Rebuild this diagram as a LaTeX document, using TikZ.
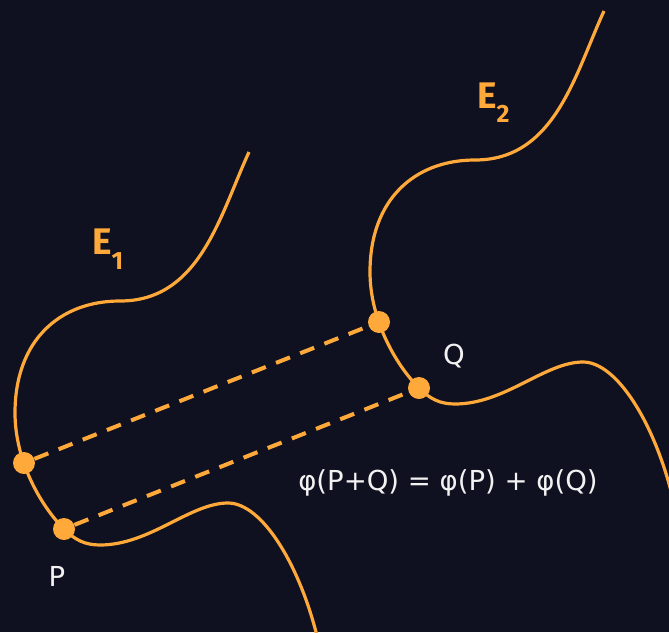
\documentclass[tikz,border=0pt]{standalone}
\usepackage{fontspec}
\setmainfont{Fira Sans}
\newfontfamily\labelfont{DejaVu Sans}
\definecolor{bgdark}{HTML}{0F1020}
\definecolor{curveorange}{HTML}{FFA93A}
\definecolor{textwhite}{HTML}{F2F2F2}
\begin{document}
\begin{tikzpicture}
[
    x=1pt, y=-1pt,
    curve/.style={draw=curveorange, line width=3.2pt},
    point/.style={circle, fill=curveorange, inner sep=0pt, minimum size=22pt},
    chord/.style={draw=curveorange, line width=4pt, dash pattern=on 15pt off 11pt},
    ptlabel/.style={text=textwhite, inner sep=0pt, font=\labelfont\fontsize{27.5}{32}\selectfont},
    curvename/.style={text=curveorange, inner sep=0pt, anchor=base west, font=\bfseries\fontsize{37}{40}\selectfont}
]
    \fill[bgdark] (0,0) rectangle (669,632);
    \clip (0,0) rectangle (669,632);

    \begin{scope}
        \draw[curve] (249,152) .. controls (220,215) and (200,301) .. (120,301)
            .. controls (60,301) and (15,340) .. (15,413)
            .. controls (15,460) and (40,505) .. (64,529)
            .. controls (75,540) and (85,545) .. (100,545)
            .. controls (150,545) and (190,503) .. (228,503)
            .. controls (262,503) and (300,565) .. (318,640);
        \node [point] (p1) at (24,463) {};
        \node [point] (p) at (64,529) {};
    \end{scope}

    \begin{scope}[shift={(355,-141)}]
        \draw[curve] (249,152) .. controls (220,215) and (200,301) .. (120,301)
            .. controls (60,301) and (15,340) .. (15,413)
            .. controls (15,460) and (40,505) .. (64,529)
            .. controls (75,540) and (85,545) .. (100,545)
            .. controls (150,545) and (190,503) .. (228,503)
            .. controls (262,503) and (300,565) .. (318,640);
        \node [point] (q1) at (24,463) {};
        \node [point] (q) at (64,529) {};
    \end{scope}

    \draw[chord] (p1) -- (q1);
    \draw[chord] (p) -- (q);

    \node [curvename] (e1) at (92,254) {E\raisebox{-15pt}{\fontsize{25}{25}\selectfont 1}};
    \node [curvename] (e2) at (477,108) {E\raisebox{-14pt}{\fontsize{25}{25}\selectfont 2}};

    \node [ptlabel] (plabel) at (57,576) {P};
    \node [ptlabel] (qlabel) at (454,356) {Q};
    \node [ptlabel, anchor=base] (law) at (448,490) {φ(P+Q) = φ(P) + φ(Q)};
\end{tikzpicture}
\end{document}
